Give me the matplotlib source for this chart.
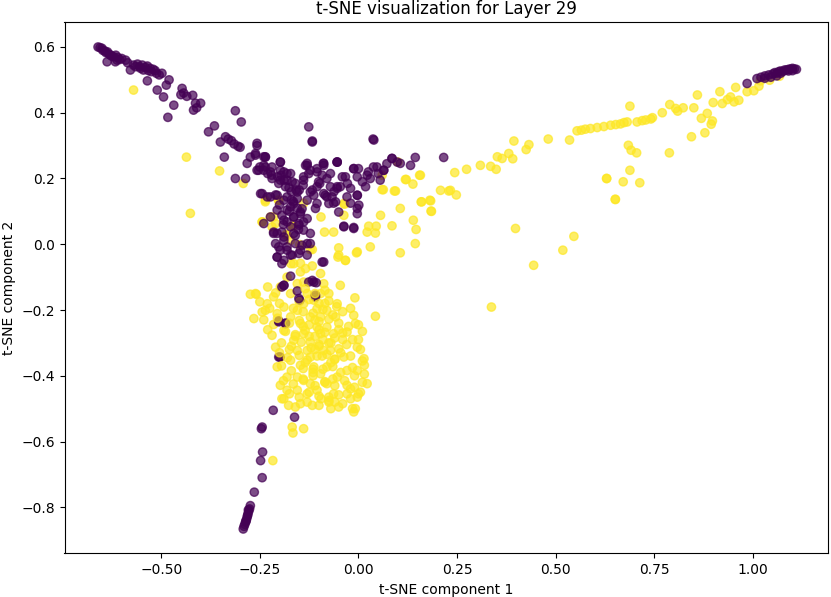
import numpy as np
import matplotlib
matplotlib.use("Agg")
import matplotlib.pyplot as plt

# ---- class 0 (purple) points ----
purple_x = [
    -0.660, -0.655, -0.650, -0.648, -0.643, -0.640, -0.636, -0.632, -0.628, -0.625,
    -0.620, -0.615, -0.610, -0.612, -0.605, -0.600, -0.637, -0.616, -0.590, -0.585,
    -0.578, -0.570, -0.565, -0.560, -0.555, -0.552, -0.548, -0.545, -0.540, -0.535,
    -0.532, -0.528, -0.525, -0.520, -0.515, -0.512, -0.535, -0.498, -0.505, -0.480,
    -0.487, -0.510, -0.494, -0.468, -0.483, -0.447, -0.443, -0.450, -0.420, -0.435,
    -0.413, -0.400, -0.418, -0.410,
    -0.380, -0.365, -0.312, -0.297, -0.350, -0.337, -0.330, -0.322, -0.315, -0.305,
    -0.300, -0.340, -0.312, -0.286, -0.257, -0.257, -0.274, -0.236, -0.282, -0.250,
    -0.240, -0.230, -0.220, -0.205, -0.126, -0.117, 0.037,
    # central cluster
    -0.261, -0.240, -0.236, -0.253, -0.219, -0.198, -0.189, -0.172, -0.181, -0.198,
    -0.219, -0.160, -0.139, -0.130, -0.126, -0.105, -0.088, -0.080, -0.101, -0.117,
    -0.054, -0.033, -0.012, -0.003, -0.046, -0.020, 0.022, 0.018, 0.047, 0.064,
    0.085, 0.039, -0.248, -0.231, -0.206, -0.181, -0.155, -0.113, -0.084, -0.075,
    -0.058, -0.050, -0.003, 0.001, -0.003, -0.172, -0.164, -0.151, -0.181, -0.194,
    -0.147, -0.130, -0.139, -0.160, -0.189, -0.206, -0.210, -0.198, -0.181, -0.206,
    -0.189, -0.168, -0.143, -0.122, -0.092, -0.240, -0.223, -0.215, -0.037, -0.012,
    -0.170, -0.185, -0.150, -0.165, -0.200, -0.175, -0.155, -0.190, -0.210, -0.140,
    -0.261, -0.236, -0.240, -0.257, -0.223, -0.198, -0.181, -0.189, -0.168, -0.202,
    -0.134, -0.122, -0.139, -0.105, -0.088, -0.092, -0.071, -0.054, -0.041, -0.054,
    -0.071, -0.105, -0.122, -0.155, -0.088, -0.067, -0.244, -0.223, -0.189, -0.164,
    -0.105, -0.181, -0.164, -0.147, -0.189, -0.172, -0.151, -0.194, -0.164, -0.189,
    -0.160, -0.202, -0.181, -0.147, -0.130, -0.122, -0.215, -0.206, -0.130, -0.139,
    -0.176, -0.158, -0.143, -0.196, -0.170, -0.152, -0.117, -0.098, -0.062, -0.028,
    # right branch
    -0.054, -0.029, -0.003, -0.003, -0.020, -0.063, -0.080, -0.109, -0.037, -0.012,
    0.085, 0.144, 0.216, 0.132, 0.098, 0.064, 0.106, 0.038, 0.000, -0.012,
    -0.089, -0.054, -0.130, -0.198, 0.010, 0.030, 0.050, 0.072, 0.055, 0.025,
    # stem going down
    -0.206, -0.194, -0.172, -0.151, -0.130, -0.088, -0.172, -0.189, -0.194, -0.155,
    -0.149, -0.126, -0.107, -0.117, -0.109, -0.202, -0.185, -0.199, -0.216, -0.162,
    -0.244, -0.246, -0.243, -0.248, -0.244, -0.264, -0.189, -0.151, -0.109, -0.113,
    -0.202, -0.185, -0.202,
    # bottom streak
    -0.274, -0.276, -0.278, -0.280, -0.282, -0.284, -0.286, -0.288, -0.290, -0.292,
    -0.281, -0.285, -0.279,
    # top right cluster
    0.985, 1.010, 1.020, 1.030, 1.040, 1.050, 1.055, 1.060, 1.065, 1.070,
    1.075, 1.080, 1.085, 1.090, 1.095, 1.100, 1.105, 1.110, 1.100, 1.090,
    1.070, 1.045, 1.030, 1.060,
]
purple_y = [
    0.600, 0.598, 0.596, 0.590, 0.588, 0.583, 0.585, 0.578, 0.575, 0.572,
    0.570, 0.575, 0.568, 0.560, 0.562, 0.565, 0.555, 0.555, 0.560, 0.552,
    0.530, 0.545, 0.540, 0.548, 0.540, 0.535, 0.545, 0.530, 0.538, 0.542,
    0.528, 0.535, 0.525, 0.532, 0.528, 0.520, 0.497, 0.520, 0.515, 0.500,
    0.484, 0.469, 0.448, 0.423, 0.386, 0.474, 0.460, 0.455, 0.453, 0.450,
    0.429, 0.429, 0.408, 0.415,
    0.342, 0.360, 0.406, 0.372, 0.311, 0.327, 0.320, 0.315, 0.305, 0.298,
    0.295, 0.265, 0.200, 0.200, 0.307, 0.300, 0.265, 0.265, 0.246, 0.235,
    0.225, 0.215, 0.210, 0.205, 0.357, 0.314, 0.320,
    # central cluster
    0.276, 0.266, 0.235, 0.225, 0.235, 0.250, 0.220, 0.215, 0.195, 0.195,
    0.200, 0.185, 0.195, 0.240, 0.215, 0.220, 0.240, 0.200, 0.190, 0.311,
    0.250, 0.205, 0.230, 0.205, 0.175, 0.170, 0.210, 0.175, 0.235, 0.225,
    0.261, 0.317, 0.154, 0.144, 0.149, 0.144, 0.139, 0.149, 0.149, 0.124,
    0.129, 0.098, 0.149, 0.119, 0.093, 0.114, 0.083, 0.063, 0.068, 0.088,
    0.098, 0.078, 0.043, 0.027, 0.022, 0.033, 0.002, -0.018, -0.008, -0.039,
    -0.049, -0.033, -0.003, 0.002, -0.054, 0.063, 0.083, 0.037, 0.053, 0.048,
    0.160, 0.175, 0.165, 0.130, 0.120, 0.100, 0.110, 0.060, 0.150, 0.180,
    0.271, 0.266, 0.240, 0.225, 0.220, 0.225, 0.215, 0.195, 0.190, 0.185,
    0.240, 0.225, 0.205, 0.230, 0.246, 0.210, 0.215, 0.250, 0.205, 0.175,
    0.175, 0.175, 0.159, 0.159, 0.154, 0.144, 0.154, 0.144, 0.134, 0.124,
    0.124, 0.104, 0.083, 0.093, 0.073, 0.053, 0.058, 0.037, 0.033, 0.012,
    0.002, -0.008, -0.018, -0.018, 0.002, 0.033, 0.033, 0.104, 0.134, 0.068,
    0.172, 0.165, 0.108, 0.210, 0.135, 0.045, 0.165, 0.185, 0.160, 0.185,
    # right branch
    0.170, 0.144, 0.149, 0.109, 0.125, 0.125, 0.144, 0.109, 0.055, 0.051,
    0.261, 0.264, 0.264, 0.240, 0.250, 0.225, 0.246, 0.235, 0.230, 0.230,
    0.246, 0.250, 0.246, 0.250, 0.190, 0.200, 0.215, 0.245, 0.195, 0.220,
    # stem going down
    -0.039, -0.059, -0.033, -0.028, -0.033, -0.054, -0.097, -0.125, -0.130, -0.142,
    -0.170, -0.115, -0.117, -0.110, -0.160, -0.233, -0.240, -0.343, -0.505, -0.526,
    -0.556, -0.561, -0.632, -0.658, -0.710, -0.754, -0.125, -0.165, -0.155, -0.115,
    -0.236, -0.241, -0.343,
    # bottom streak
    -0.795, -0.805, -0.812, -0.820, -0.830, -0.838, -0.845, -0.852, -0.858, -0.866,
    -0.825, -0.842, -0.808,
    # top right cluster
    0.489, 0.504, 0.508, 0.512, 0.515, 0.518, 0.522, 0.520, 0.525, 0.527,
    0.525, 0.530, 0.530, 0.532, 0.533, 0.535, 0.533, 0.532, 0.528, 0.527,
    0.520, 0.508, 0.505, 0.512,
]

# ---- class 1 (yellow) points ----
yellow_x = [
    -0.570, -0.436, -0.426, -0.352, -0.292, -0.236, -0.203, -0.139, -0.244, -0.223,
    -0.210, -0.219, -0.166, -0.183, -0.172, -0.149, -0.122, -0.171, -0.147, -0.117,
    -0.095, -0.086, -0.063, -0.050, -0.052, -0.033, -0.003, 0.030, 0.022, 0.043,
    0.026, 0.045, 0.056, 0.085, 0.106, 0.144, 0.146, 0.139, 0.106, 0.159,
    0.181, 0.185, 0.060, 0.094, 0.060, 0.119, 0.138, 0.155, 0.100, 0.208,
    0.233, -0.037, -0.037, 0.091, 0.063, 0.121, 0.157, 0.229, 0.248, 0.160,
    0.183, 0.184, -0.236, -0.202, -0.244, -0.215, -0.168, -0.181, -0.117, -0.035,
    # right arm
    0.394, 0.432, 0.425, 0.481, 0.535, 0.554, 0.565, 0.575, 0.588, 0.605,
    0.622, 0.639, 0.652, 0.664, 0.673, 0.681, 0.706, 0.719, 0.728, 0.741,
    0.745, 0.352, 0.381, 0.364, 0.391, 0.309, 0.335, 0.349, 0.274, 0.244,
    0.398, 0.546, 0.518, 0.444, 0.337, 0.629, 0.651, 0.688, 0.789, 0.804,
    0.809, 0.823, 0.850, 0.859, 0.916, 0.899, 0.922, 0.943, 0.956, 0.964,
    0.952, 0.985, 1.002, 1.015, 1.019, 1.042, 1.067, 0.869, 0.884, 0.897,
    0.894, 0.878, 0.844, 0.684, 0.691, 0.705, 0.788, 0.688, 0.671, 0.713,
    0.629, 0.651, 0.770, 0.935,
    # lower dense cluster
    -0.274, -0.259, -0.265, -0.244, -0.231, -0.210, -0.215, -0.219, -0.210, -0.206,
    -0.198, -0.194, -0.177, -0.168, -0.139, -0.050, -0.033, -0.005, -0.046, -0.088,
    -0.075, -0.009, 0.043, -0.012, -0.008, -0.029, -0.003, 0.014, 0.015, 0.022,
    -0.003, -0.008, -0.050, -0.075, -0.117, -0.147, -0.096, -0.113, -0.139, -0.155,
    -0.122, -0.096, -0.139, -0.181, -0.054, -0.029, -0.071, -0.164, -0.134, -0.181,
    -0.139, -0.096, -0.172, -0.139, -0.172, -0.189, -0.147, -0.164, -0.122, -0.096,
    -0.063, -0.058, -0.054, -0.096, -0.122, -0.105, -0.063, -0.029, -0.029, -0.181,
    -0.155, -0.130, -0.198, -0.172, -0.147, -0.113, -0.080, -0.037, -0.003, -0.122,
    -0.080, -0.155, -0.130, -0.088, -0.105, -0.080, -0.105, -0.080, -0.155, -0.189,
    -0.206, -0.130, -0.155, -0.198, -0.147, -0.166, -0.217, -0.012, -0.189, -0.236,
    -0.261, -0.090, -0.110, -0.070, -0.060, -0.100, -0.085, -0.115, -0.075, -0.045,
    -0.125, -0.065, -0.095, -0.110, -0.085, -0.020, -0.040, -0.140, -0.160, -0.115,
    -0.010, 0.005, -0.070, -0.092, -0.135, 0.000, -0.060, -0.100, -0.050, -0.175,
    -0.150, -0.125, -0.100, -0.075, -0.055, -0.140, -0.115, -0.090, -0.065, -0.040,
    -0.020, -0.200, -0.215, -0.225, -0.205, -0.175, -0.150, -0.125, -0.100, -0.075,
    -0.050, -0.025, 0.000, 0.010, -0.185, -0.160, -0.135, -0.110, -0.085, -0.060,
    -0.040, -0.015, -0.195, -0.170, -0.145, -0.120, -0.100, -0.075, -0.050, -0.030,
    0.005, -0.200, -0.180, -0.150, -0.130, -0.105, -0.080, -0.060, -0.020, 0.010,
    -0.195, -0.170, -0.140, -0.115, -0.090, -0.065, -0.045, -0.015, 0.015, -0.190,
    -0.165, -0.140, -0.110, -0.085, -0.060, -0.035, -0.010, 0.010, -0.175, -0.150,
    -0.125, -0.100, -0.075, -0.050, -0.020, 0.000, -0.160, -0.130, -0.100, -0.070,
    -0.040, -0.015, -0.230, -0.250, -0.240, -0.230, -0.165, -0.135, -0.110, -0.085,
]
yellow_y = [
    0.469, 0.265, 0.094, 0.223, 0.185, 0.134, 0.134, 0.125, 0.068, 0.083,
    0.063, 0.053, 0.055, 0.030, 0.012, -0.001, -0.016, -0.059, -0.058, -0.066,
    0.083, 0.037, 0.037, -0.011, -0.039, -0.049, -0.023, -0.008, 0.037, 0.034,
    0.055, 0.055, 0.088, 0.056, -0.026, 0.002, 0.045, 0.073, 0.109, 0.129,
    0.134, 0.100, 0.166, 0.162, 0.210, 0.197, 0.183, 0.210, 0.250, 0.164,
    0.164, 0.124, 0.088, 0.162, 0.166, 0.197, 0.210, 0.162, 0.150, 0.129,
    0.132, 0.101, 0.129, 0.134, 0.068, 0.083, 0.055, 0.027, -0.016, 0.122,
    # right arm
    0.314, 0.303, 0.288, 0.320, 0.317, 0.345, 0.347, 0.350, 0.352, 0.355,
    0.358, 0.362, 0.364, 0.366, 0.370, 0.372, 0.372, 0.376, 0.378, 0.381,
    0.385, 0.266, 0.276, 0.261, 0.260, 0.240, 0.237, 0.228, 0.228, 0.218,
    0.048, 0.024, -0.018, -0.064, -0.191, 0.200, 0.137, 0.420, 0.425, 0.413,
    0.405, 0.415, 0.415, 0.454, 0.464, 0.431, 0.428, 0.448, 0.477, 0.438,
    0.433, 0.464, 0.467, 0.481, 0.497, 0.499, 0.511, 0.383, 0.398, 0.375,
    0.365, 0.339, 0.327, 0.301, 0.286, 0.278, 0.278, 0.225, 0.190, 0.187,
    0.200, 0.136, 0.400, 0.440,
    # lower dense cluster
    -0.152, -0.152, -0.226, -0.206, -0.181, -0.148, -0.244, -0.277, -0.313, -0.373,
    -0.429, -0.470, -0.490, -0.556, -0.561, -0.033, -0.049, -0.026, -0.125, -0.120,
    -0.150, -0.163, -0.219, -0.216, -0.241, -0.267, -0.313, -0.348, -0.368, -0.424,
    -0.465, -0.500, -0.495, -0.465, -0.490, -0.485, -0.221, -0.170, -0.272, -0.323,
    -0.343, -0.394, -0.414, -0.404, -0.404, -0.384, -0.323, -0.059, -0.074, -0.100,
    -0.115, -0.089, -0.150, -0.181, -0.221, -0.262, -0.241, -0.292, -0.297, -0.272,
    -0.272, -0.221, -0.181, -0.150, -0.221, -0.444, -0.455, -0.455, -0.429, -0.444,
    -0.444, -0.455, -0.343, -0.353, -0.368, -0.373, -0.373, -0.343, -0.384, -0.424,
    -0.424, -0.404, -0.323, -0.323, -0.252, -0.252, -0.196, -0.201, -0.201, -0.191,
    -0.211, -0.150, -0.120, -0.130, -0.084, -0.574, -0.658, -0.510, -0.470, -0.201,
    -0.150, -0.290, -0.320, -0.300, -0.350, -0.260, -0.420, -0.400, -0.480, -0.330,
    -0.280, -0.410, -0.470, -0.230, -0.180, -0.440, -0.290, -0.250, -0.280, -0.380,
    -0.400, -0.450, -0.360, -0.340, -0.360, -0.290, -0.480, -0.310, -0.260, -0.320,
    -0.175, -0.168, -0.180, -0.172, -0.190, -0.205, -0.210, -0.198, -0.215, -0.205,
    -0.195, -0.180, -0.160, -0.195, -0.225, -0.240, -0.232, -0.245, -0.235, -0.228,
    -0.240, -0.250, -0.245, -0.265, -0.265, -0.275, -0.262, -0.280, -0.268, -0.285,
    -0.270, -0.290, -0.300, -0.310, -0.298, -0.315, -0.305, -0.300, -0.318, -0.305,
    -0.320, -0.330, -0.345, -0.338, -0.352, -0.340, -0.335, -0.350, -0.340, -0.355,
    -0.370, -0.385, -0.378, -0.390, -0.380, -0.372, -0.390, -0.375, -0.395, -0.415,
    -0.425, -0.410, -0.430, -0.418, -0.430, -0.415, -0.435, -0.420, -0.455, -0.465,
    -0.450, -0.462, -0.475, -0.458, -0.470, -0.455, -0.495, -0.480, -0.490, -0.500,
    -0.485, -0.500, -0.130, -0.175, -0.230, -0.260, -0.195, -0.135, -0.150, -0.140,
]

categories = [0, 1]

# interleave the two classes so neither one is always drawn on top
n0, n1 = len(purple_x), len(yellow_x)
xs, ys, cs = [], [], []
i = j = 0
while i < n0 or j < n1:
    if i < n0:
        xs.append(purple_x[i]); ys.append(purple_y[i]); cs.append(categories[0]); i += 1
    if j < n1:
        xs.append(yellow_x[j]); ys.append(yellow_y[j]); cs.append(categories[1]); j += 1

fig = plt.figure(figsize=(8.31, 5.97), dpi=100)
ax = fig.add_axes([64.5 / 831, (597 - 553.3) / 597, (828 - 64.5) / 831, (553.3 - 22) / 597])
ax.scatter(xs, ys, c=cs, cmap="viridis", alpha=0.7, vmin=0, vmax=1)
ax.set_xlim(-0.745, 1.190)
ax.set_ylim(-0.940, 0.676)
ax.set_xticks([-0.5, -0.25, 0.0, 0.25, 0.5, 0.75, 1.0])
ax.set_yticks([-0.8, -0.6, -0.4, -0.2, 0.0, 0.2, 0.4, 0.6])
ax.set_title("t-SNE visualization for Layer 29")
ax.set_xlabel("t-SNE component 1")
ax.set_ylabel("t-SNE component 2")
fig.savefig("out.png", dpi=100)
